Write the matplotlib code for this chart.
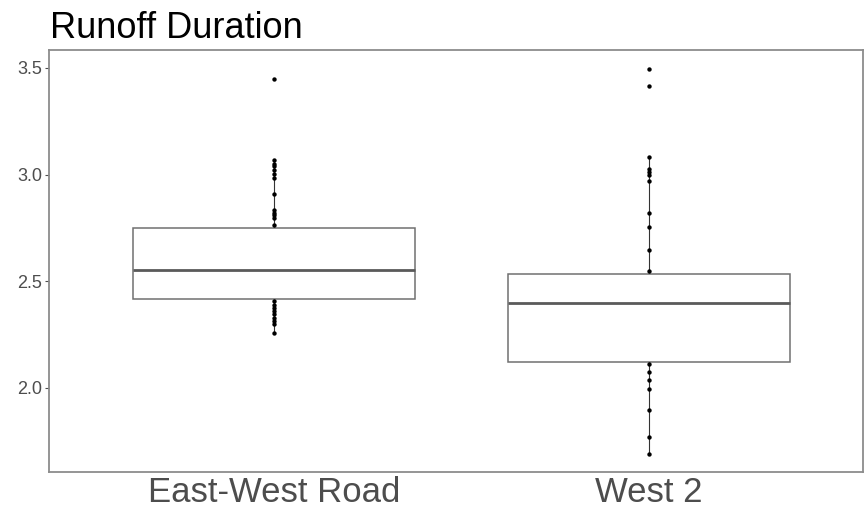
import numpy as np
import matplotlib.pyplot as plt

plt.rcParams['font.family'] = ['Liberation Sans', 'DejaVu Sans']

# 两个站点
sites = ['East-West Road', 'West 2']

# 箱体统计值（下须、下四分位、中位数、上四分位、上须）
whislo = [2.26, 1.69]
q1 = [2.416, 2.123]
med = [2.552, 2.398]
q3 = [2.752, 2.534]
whishi = [3.07, 3.08]

# 观测点（箱体外可见的部分）
ew_points = [3.447, 3.068, 3.052, 3.038, 3.022, 3.005, 2.985, 2.91,
             2.834, 2.822, 2.81, 2.797, 2.764,
             2.408, 2.39, 2.375, 2.36, 2.345, 2.33, 2.315, 2.30, 2.259]
w2_points = [3.494, 3.416, 3.081, 3.025, 3.014, 2.998, 2.97, 2.822,
             2.756, 2.647, 2.548,
             2.112, 2.076, 2.037, 1.993, 1.896, 1.771, 1.69]

fig = plt.figure(figsize=(8.65, 5.12), dpi=100)
ax = fig.add_axes([49 / 865, 1 - 472 / 512, (863 - 49) / 865, (472 - 50) / 512])

stats = []
for i in range(2):
    stats.append({'whislo': whislo[i], 'q1': q1[i], 'med': med[i],
                  'q3': q3[i], 'whishi': whishi[i], 'fliers': []})

# 先画须线
for i in range(2):
    ax.plot([i + 1, i + 1], [whislo[i], whishi[i]], color='#333333',
            lw=0.8, zorder=1)

ax.bxp(stats, positions=[1, 2], widths=0.75, showfliers=False,
       showcaps=False, patch_artist=True,
       boxprops=dict(facecolor='white', edgecolor='#707070', linewidth=1.1),
       medianprops=dict(color='#5a5a5a', linewidth=2),
       whiskerprops=dict(linewidth=0), zorder=2)

# 点
ax.scatter([1] * len(ew_points), ew_points, s=10, color='black', zorder=3,
           linewidths=0)
ax.scatter([2] * len(w2_points), w2_points, s=10, color='black', zorder=3,
           linewidths=0)

ax.set_xlim(0.4, 2.571)
ax.set_ylim(1.606, 3.584)
ax.set_yticks([2.0, 2.5, 3.0, 3.5])
ax.set_yticklabels(['2.0', '2.5', '3.0', '3.5'])
ax.set_xticks([1, 2])
ax.set_xticklabels(sites, fontsize=25, color='#4d4d4d')
ax.tick_params(axis='y', labelsize=13, colors='#4d4d4d', length=3,
               width=0.8, pad=2)
ax.tick_params(axis='x', length=0, pad=3)
for sp in ax.spines.values():
    sp.set_color('#8c8c8c')
    sp.set_linewidth(1.3)

fig.text(50 / 865, 1 - 38 / 512, 'Runoff Duration', fontsize=26,
         color='black', va='baseline', ha='left')

fig.savefig('out.png', dpi=100)
